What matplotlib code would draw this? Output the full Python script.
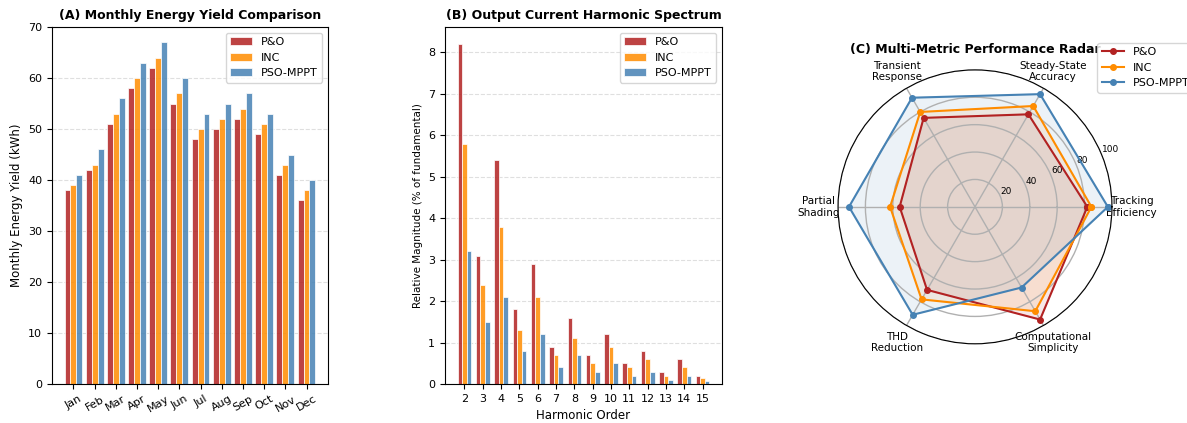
import numpy as np
import matplotlib
matplotlib.use("Agg")
import matplotlib.pyplot as plt

# data
months = ["Jan", "Feb", "Mar", "Apr", "May", "Jun", "Jul", "Aug", "Sep", "Oct", "Nov", "Dec"]
yield_po = [38, 42, 51, 58, 62, 55, 48, 50, 52, 49, 41, 36]
yield_inc = [39, 43, 53, 60, 64, 57, 50, 52, 54, 51, 43, 38]
yield_pso = [41, 46, 56, 63, 67, 60, 53, 55, 57, 53, 45, 40]

harmonics = list(range(2, 16))
harm_po = [8.2, 3.1, 5.4, 1.8, 2.9, 0.9, 1.6, 0.7, 1.2, 0.5, 0.8, 0.3, 0.6, 0.2]
harm_inc = [5.8, 2.4, 3.8, 1.3, 2.1, 0.7, 1.1, 0.5, 0.9, 0.4, 0.6, 0.2, 0.4, 0.15]
harm_pso = [3.2, 1.5, 2.1, 0.8, 1.2, 0.4, 0.7, 0.3, 0.5, 0.2, 0.3, 0.1, 0.2, 0.08]

metrics = ["Tracking\nEfficiency", "Steady-State\nAccuracy", "Transient\nResponse",
           "Partial\nShading", "THD\nReduction", "Computational\nSimplicity"]
radar_po = [82, 78, 75, 55, 70, 95]
radar_inc = [85, 85, 80, 62, 78, 88]
radar_pso = [97, 95, 92, 92, 91, 68]

methods = ["P&O", "INC", "PSO-MPPT"]
colors = ["#B22222", "#FF8C00", "#4682B4"]

fig = plt.figure(figsize=(11.87, 4.23), dpi=100)

# (A) monthly energy yield
ax1 = fig.add_axes([0.0438, 0.092, 0.2325, 0.844])
x = np.arange(len(months))
w = 0.28
for k, vals in enumerate([yield_po, yield_inc, yield_pso]):
    ax1.bar(x + (k - 1) * w, vals, w, color=colors[k], alpha=0.85,
            edgecolor="white", linewidth=0.6, label=methods[k])
ax1.set_xticks(x)
ax1.set_xticklabels(months, rotation=30, fontsize=8)
ax1.set_ylim(0, 70)
ax1.tick_params(axis="y", labelsize=8)
ax1.set_ylabel("Monthly Energy Yield (kWh)", fontsize=8.5)
ax1.set_title("(A) Monthly Energy Yield Comparison", fontsize=9, fontweight="bold")
ax1.grid(axis="y", linestyle="--", alpha=0.4)
ax1.set_axisbelow(True)
ax1.legend(fontsize=8, loc="upper right")

# (B) harmonic spectrum
ax2 = fig.add_axes([0.3749, 0.092, 0.2334, 0.844])
h = np.array(harmonics)
w = 0.25
for k, vals in enumerate([harm_po, harm_inc, harm_pso]):
    ax2.bar(h + (k - 1) * w, vals, w, color=colors[k], alpha=0.85,
            edgecolor="white", linewidth=0.6, label=methods[k])
ax2.set_xticks(h)
ax2.tick_params(labelsize=8)
ax2.set_xlabel("Harmonic Order", fontsize=8.5)
ax2.set_ylabel("Relative Magnitude (% of fundamental)", fontsize=7.5)
ax2.set_title("(B) Output Current Harmonic Spectrum", fontsize=9, fontweight="bold")
ax2.grid(axis="y", linestyle="--", alpha=0.4)
ax2.set_axisbelow(True)
ax2.legend(fontsize=8, loc="upper right")

# (C) radar
ax3 = fig.add_axes([0.706, 0.187, 0.2308, 0.648], projection="polar")
angles = np.linspace(0, 2 * np.pi, len(metrics), endpoint=False).tolist()
angles += angles[:1]
for k, vals in enumerate([radar_po, radar_inc, radar_pso]):
    v = vals + vals[:1]
    ax3.plot(angles, v, "o-", color=colors[k], linewidth=1.5, markersize=4, label=methods[k])
    ax3.fill(angles, v, color=colors[k], alpha=0.1)
ax3.set_xticks(angles[:-1])
ax3.set_xticklabels(metrics, fontsize=7.5)
ax3.set_ylim(0, 100)
ax3.set_yticks([20, 40, 60, 80, 100])
ax3.set_yticklabels(["20", "40", "60", "80", "100"], fontsize=6.5)
ax3.grid(color="#b0b0b0", linewidth=1.0)
ax3.set_title("(C) Multi-Metric Performance Radar", fontsize=9, fontweight="bold", pad=12)
ax3.legend(fontsize=8, loc="upper right", bbox_to_anchor=(1.32, 1.12))

fig.savefig("out.png", dpi=100)
